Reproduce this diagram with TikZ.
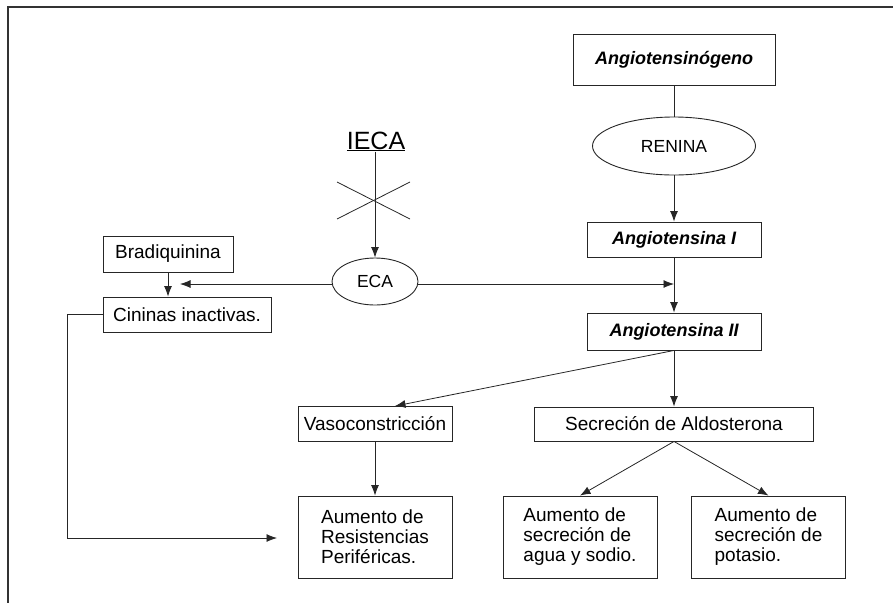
\documentclass[tikz,border=0pt]{standalone}
\usepackage{fontspec}
\setmainfont{Liberation Sans}
\usetikzlibrary{arrows.meta,positioning,shapes.geometric}

\tikzset{
  box/.style={draw=black!85, line width=0.9pt, inner sep=0pt, minimum height=35pt,
    font=\fontsize{19}{20}\selectfont},
  angbox/.style={box, font=\fontsize{18}{19.5}\selectfont\bfseries\itshape},
  bigbox/.style={box, minimum width=154pt, minimum height=82pt, align=left},
  oval/.style={ellipse, draw=black!85, line width=0.9pt, inner sep=0pt,
    font=\fontsize{17.5}{19}\selectfont},
}

\begin{document}
\begin{tikzpicture}[x=1pt,y=-1pt,>={Latex[length=10.5pt,width=8pt]},line width=0.8pt,draw=black!85]
    \useasboundingbox (0,0) rectangle (893,603);
    \draw[line width=2pt,black!80] (893,6.5) -- (7.5,6.5) -- (7.5,603);

    % main column
    \node[angbox, minimum width=202pt, minimum height=51pt] (ang0) at (674,59.5) {Angiotensinógeno};
    \node[oval, minimum width=163pt, minimum height=58pt] (renina) [below of=ang0, node distance=86.5pt] {RENINA};
    \node[angbox, minimum width=174pt] (ang1) [below of=renina, node distance=93.5pt] {Angiotensina I};
    \node[angbox, minimum width=174pt, minimum height=37pt] (ang2) [below of=ang1, node distance=92pt] {Angiotensina II};
    \node[box, minimum width=279pt, minimum height=34pt] (aldo) [below of=ang2, node distance=92.5pt] {Secreción de Aldosterona};
    \node[box, minimum width=154pt] (vaso) [left of=aldo, node distance=299pt] {Vasoconstricción};
    \node[bigbox] (aumres) [below of=vaso, node distance=113pt] {Aumento de\\Resistencias\\Periféricas.};
    \node[bigbox] (agua) at (580,537) {Aumento de\\secreción de\\agua y sodio.};
    \node[bigbox] (potasio) [right of=agua, node distance=188.5pt] {Aumento de\\secreción de\\potasio.};

    % left side
    \node[oval, minimum width=86pt, minimum height=47pt] (eca) at (375,281.5) {ECA};
    \node[inner sep=0pt, anchor=base, font=\fontsize{25}{27}\selectfont] (iec) at (376,149) {\underline{IECA}};
    \node[box, minimum width=130pt, minimum height=36pt] (bradi) at (168,254) {Bradiquinina};
    \node[box, minimum width=168pt] (cininas) at (187,314.5) {Cininas inactivas.};

    \coordinate (ecatip) at (180,284);
    \coordinate (xmark) at (373.5,200.5);
    \coordinate (corner) at (67,538);
    \coordinate (retip) at (277,538);

    \draw (ang0) -- (renina);
    \draw[->] (renina) -- (ang1);
    \draw[->] (ang1) -- (ang2);
    \draw[->] (ang2) -- (aldo);
    \draw[->] (ang2.south) -- ([xshift=20pt]vaso.north);
    \draw[->] (vaso) -- (aumres);
    \draw[->] (aldo.south) -- (agua.north);
    \draw[->] (aldo.south) -- (potasio.north);

    \draw[->] (eca.north |- iec.south) -- (eca.north);
    \draw ([shift={(-36.5,-18.5)}]xmark) -- ([shift={(36.5,18.5)}]xmark);
    \draw ([shift={(-36.5,18.5)}]xmark) -- ([shift={(36.5,-18.5)}]xmark);
    \draw[->] (eca.west |- ecatip) -- (ecatip);
    \draw[->] (eca.east |- ecatip) -- (ecatip -| ang1.south);
    \draw[->] (bradi.south) -- (bradi.south |- cininas.north);
    \draw[->] (cininas.west) -| (corner) -- (retip);
\end{tikzpicture}
\end{document}
